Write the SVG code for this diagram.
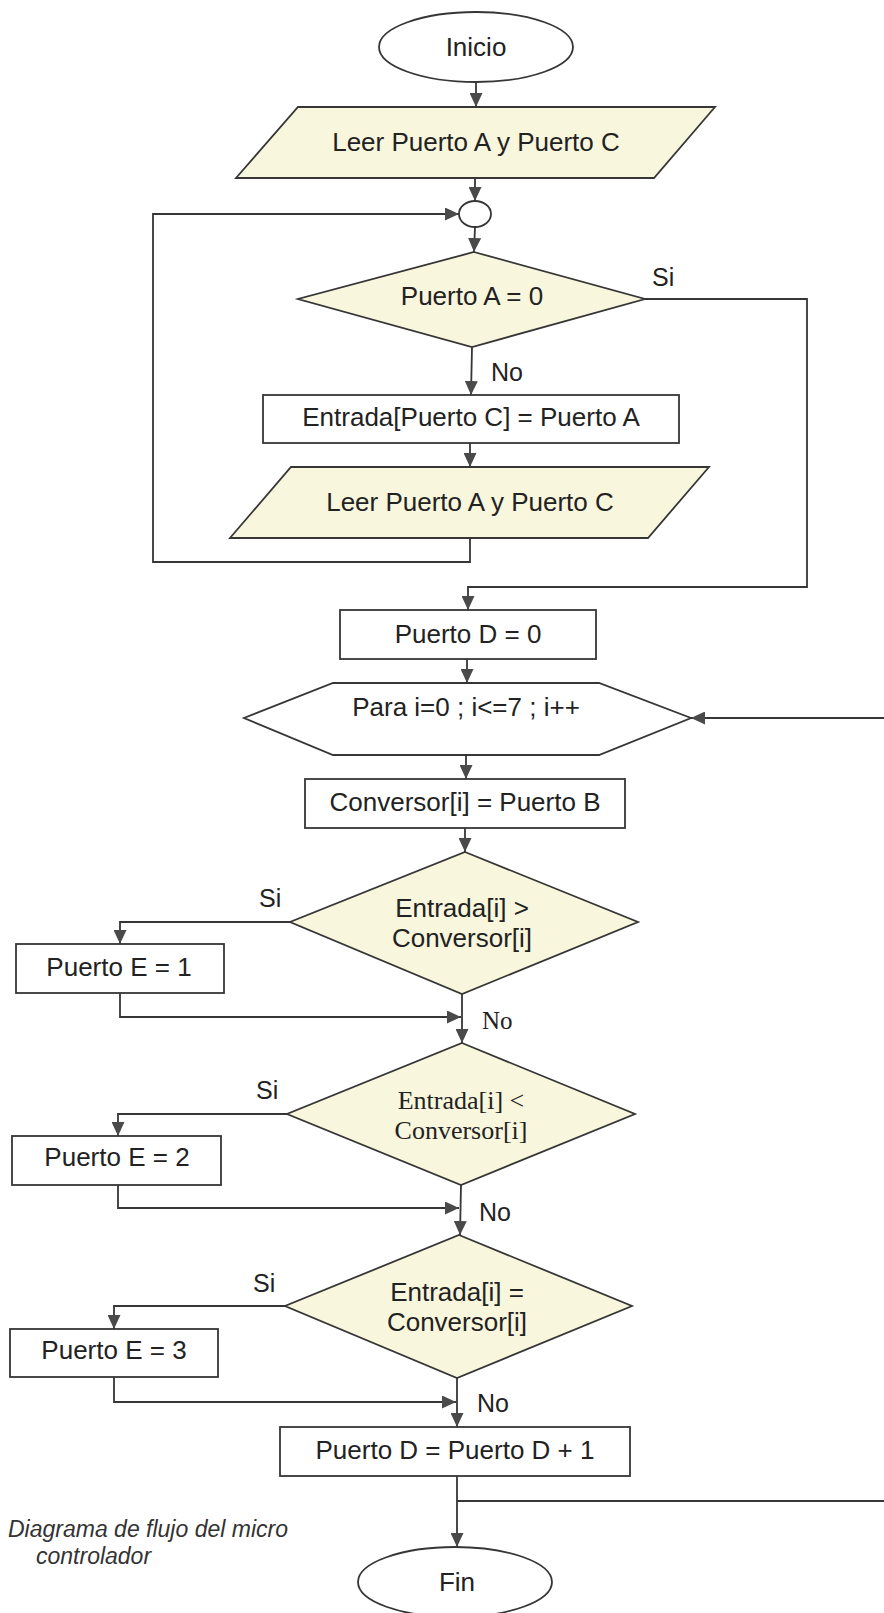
<svg xmlns="http://www.w3.org/2000/svg" width="884" height="1613" viewBox="0 0 884 1613">
  <defs>
    <style>
      .bg { fill: #ffffff; }
      .shape { stroke: #363636; stroke-width: 1.8; }
      .cream { fill: #f8f6dc; }
      .plain { fill: #ffffff; }
      .conn { fill: none; stroke: #363636; stroke-width: 1.8; }
      .t { font-family: "Liberation Sans", Arial, sans-serif; font-size: 26px; fill: #222222; text-anchor: middle; }
      .ts { font-family: "Liberation Serif", "Times New Roman", serif; font-size: 26px; fill: #222222; text-anchor: middle; }
      .lbl { font-family: "Liberation Sans", Arial, sans-serif; font-size: 25px; fill: #222222; }
      .lbls { font-family: "Liberation Serif", "Times New Roman", serif; font-size: 25px; fill: #222222; }
      .cap { font-family: "Liberation Sans", Arial, sans-serif; font-size: 23px; font-style: italic; fill: #333333; }
    </style>
    <marker id="arrow" markerUnits="userSpaceOnUse" markerWidth="15" markerHeight="13" refX="14" refY="6.5" orient="auto">
      <path d="M0,0 L14,6.5 L0,13 z" fill="#4a4a4a"/>
    </marker>
  </defs>

  <rect class="bg" x="0" y="0" width="884" height="1613"/>

  <!-- connectors -->
  <g id="connectors">
    <line class="conn" x1="476" y1="82" x2="476" y2="107" marker-end="url(#arrow)"/>
    <line class="conn" x1="475" y1="178" x2="475" y2="201" marker-end="url(#arrow)"/>
    <line class="conn" x1="475" y1="227" x2="474" y2="252" marker-end="url(#arrow)"/>
    <!-- Si branch of first decision -->
    <polyline class="conn" points="645,299 807,299 807,587 468,587 468,610" marker-end="url(#arrow)"/>
    <!-- No branch -->
    <line class="conn" x1="472" y1="347" x2="471" y2="395" marker-end="url(#arrow)"/>
    <line class="conn" x1="470" y1="443" x2="470" y2="467" marker-end="url(#arrow)"/>
    <!-- loop back to the connector circle -->
    <polyline class="conn" points="470,538 470,562 153,562 153,214 459,214" marker-end="url(#arrow)"/>
    <line class="conn" x1="467" y1="659" x2="467" y2="683" marker-end="url(#arrow)"/>
    <!-- return into the for loop -->
    <line class="conn" x1="884" y1="718" x2="691" y2="718" marker-end="url(#arrow)"/>
    <line class="conn" x1="466" y1="755" x2="466" y2="779" marker-end="url(#arrow)"/>
    <line class="conn" x1="465" y1="828" x2="465" y2="852" marker-end="url(#arrow)"/>
    <!-- comparison 1 -->
    <polyline class="conn" points="290,922 120,922 120,944" marker-end="url(#arrow)"/>
    <polyline class="conn" points="120,993 120,1017 461,1017" marker-end="url(#arrow)"/>
    <line class="conn" x1="462" y1="994" x2="462" y2="1043" marker-end="url(#arrow)"/>
    <!-- comparison 2 -->
    <polyline class="conn" points="287,1114 118,1114 118,1136" marker-end="url(#arrow)"/>
    <polyline class="conn" points="118,1185 118,1208 459,1208" marker-end="url(#arrow)"/>
    <line class="conn" x1="461" y1="1185" x2="460" y2="1235" marker-end="url(#arrow)"/>
    <!-- comparison 3 -->
    <polyline class="conn" points="285,1306 114,1306 114,1329" marker-end="url(#arrow)"/>
    <polyline class="conn" points="114,1377 114,1402 456,1402" marker-end="url(#arrow)"/>
    <line class="conn" x1="457" y1="1378" x2="457" y2="1427" marker-end="url(#arrow)"/>
    <!-- to end and back to loop -->
    <line class="conn" x1="457" y1="1476" x2="457" y2="1547" marker-end="url(#arrow)"/>
    <line class="conn" x1="457" y1="1501" x2="884" y2="1501"/>
  </g>

  <!-- labels on connectors -->
  <g id="labels">
    <text class="lbl" x="652" y="286">Si</text>
    <text class="lbl" x="491" y="381">No</text>
    <text class="lbl" x="259" y="907">Si</text>
    <text class="lbls" x="482" y="1029">No</text>
    <text class="lbl" x="256" y="1099">Si</text>
    <text class="lbl" x="479" y="1221">No</text>
    <text class="lbl" x="253" y="1292">Si</text>
    <text class="lbl" x="477" y="1412">No</text>
  </g>

  <g id="inicio">
    <ellipse class="shape plain" cx="476" cy="47" rx="97" ry="35"/>
    <text class="t" x="476" y="56">Inicio</text>
  </g>

  <g id="leer1">
    <polygon class="shape cream" points="298,107 715,107 654,178 236,178"/>
    <text class="t" x="476" y="151">Leer Puerto A y Puerto C</text>
  </g>

  <g id="conector">
    <ellipse class="shape plain" cx="475" cy="214" rx="16" ry="13"/>
  </g>

  <g id="decision-a">
    <polygon class="shape cream" points="474,252 645,299 472,347 298,299"/>
    <text class="t" x="472" y="305">Puerto A = 0</text>
  </g>

  <g id="entrada">
    <rect class="shape plain" x="263" y="395" width="416" height="48"/>
    <text class="t" x="471" y="426">Entrada[Puerto C] = Puerto A</text>
  </g>

  <g id="leer2">
    <polygon class="shape cream" points="291,467 709,467 648,538 230,538"/>
    <text class="t" x="470" y="511">Leer Puerto A y Puerto C</text>
  </g>

  <g id="puerto-d-0">
    <rect class="shape plain" x="340" y="610" width="256" height="49"/>
    <text class="t" x="468" y="643">Puerto D = 0</text>
  </g>

  <g id="para">
    <polygon class="shape plain" points="333,683 599,683 691,718 599,755 333,755 244,718"/>
    <text class="t" x="466" y="716">Para i=0 ; i&lt;=7 ; i++</text>
  </g>

  <g id="conversor">
    <rect class="shape plain" x="305" y="779" width="320" height="49"/>
    <text class="t" x="465" y="811">Conversor[i] = Puerto B</text>
  </g>

  <g id="decision-mayor">
    <polygon class="shape cream" points="465,852 638,922 462,994 290,922"/>
    <text class="t" x="462" y="917">Entrada[i] &gt;</text>
    <text class="t" x="462" y="947">Conversor[i]</text>
  </g>

  <g id="puerto-e-1">
    <rect class="shape plain" x="16" y="944" width="208" height="49"/>
    <text class="t" x="119" y="976">Puerto E = 1</text>
  </g>

  <g id="decision-menor">
    <polygon class="shape cream" points="462,1043 635,1114 461,1185 287,1114"/>
    <text class="ts" x="461" y="1109">Entrada[i] &lt;</text>
    <text class="ts" x="461" y="1139">Conversor[i]</text>
  </g>

  <g id="puerto-e-2">
    <rect class="shape plain" x="12" y="1136" width="209" height="49"/>
    <text class="t" x="117" y="1166">Puerto E = 2</text>
  </g>

  <g id="decision-igual">
    <polygon class="shape cream" points="459,1235 632,1306 457,1378 285,1306"/>
    <text class="t" x="457" y="1301">Entrada[i] =</text>
    <text class="t" x="457" y="1331">Conversor[i]</text>
  </g>

  <g id="puerto-e-3">
    <rect class="shape plain" x="10" y="1329" width="208" height="48"/>
    <text class="t" x="114" y="1359">Puerto E = 3</text>
  </g>

  <g id="incremento">
    <rect class="shape plain" x="280" y="1427" width="350" height="49"/>
    <text class="t" x="455" y="1459">Puerto D = Puerto D + 1</text>
  </g>

  <g id="fin">
    <ellipse class="shape plain" cx="455" cy="1582" rx="97" ry="35"/>
    <text class="t" x="457" y="1591">Fin</text>
  </g>

  <g id="caption">
    <text class="cap" x="8" y="1537">Diagrama de flujo del micro</text>
    <text class="cap" x="36" y="1564">controlador</text>
  </g>
</svg>
